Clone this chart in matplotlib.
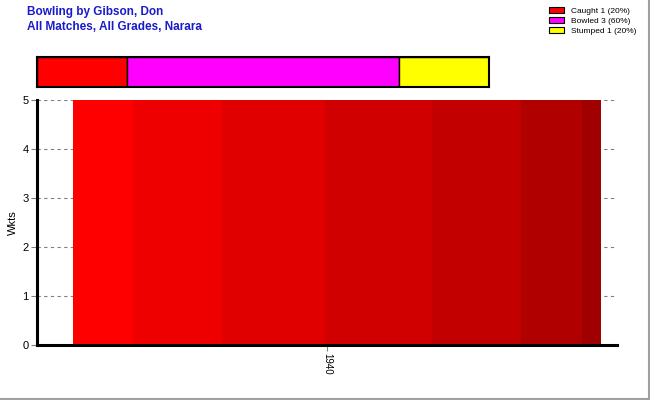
import matplotlib.pyplot as plt
from matplotlib.patches import Patch
from matplotlib.lines import Line2D

# Data
seasons = ["1940"]
wickets = [5]
dismissals = ["Caught", "Bowled", "Stumped"]
dismissal_counts = [1, 3, 1]
dismissal_colors = ["#ff0000", "#ff00ff", "#ffff00"]

# decorative shading of the bar (left to right)
shade_colors = ["#ff0000", "#ee0000", "#e00000", "#d00000", "#c20000", "#b00000", "#a00000"]
shade_edges = [0, 0.114, 0.282, 0.477, 0.68, 0.848, 0.964, 1.0]

plt.rcParams["font.family"] = ["Liberation Sans", "DejaVu Sans"]

fig = plt.figure(figsize=(6.5, 4), dpi=100)

# main chart
ax = fig.add_axes([37 / 650, 55 / 400, 580 / 650, 245 / 400])
bar_width = 0.91
bar_offset = 0.017
for i, (season, w) in enumerate(zip(seasons, wickets)):
    left = i + bar_offset - bar_width / 2
    for c, e0, e1 in zip(shade_colors, shade_edges[:-1], shade_edges[1:]):
        ax.bar(left + bar_width * e0, w, width=bar_width * (e1 - e0),
               align="edge", color=c, edgecolor="none", zorder=2)

ax.set_xlim(-0.5, len(seasons) - 0.5)
ax.set_ylim(0, 5)
ax.set_xticks(range(len(seasons)))
ax.set_xticklabels(seasons, rotation=-90, fontsize=7)
ax.set_yticks(range(0, 6))
ax.tick_params(axis="y", length=4, color="#808080", labelsize=8, pad=2)
ax.tick_params(axis="x", length=4, color="#808080", pad=2)
ax.set_ylabel("Wkts", fontsize=8, labelpad=3)
ax.yaxis.grid(True, linestyle=(0, (3, 3)), color="#808080", linewidth=0.8, zorder=1)
ax.set_axisbelow(True)
for s in ["top", "right"]:
    ax.spines[s].set_visible(False)
for s in ["left", "bottom"]:
    ax.spines[s].set_linewidth(2.2)
    ax.spines[s].set_color("black")

# dismissal summary bar
ax2 = fig.add_axes([37 / 650, 313 / 400, 452 / 650, 30 / 400])
total = sum(dismissal_counts)
start = 0
for n, c in zip(dismissal_counts, dismissal_colors):
    ax2.barh(0, n / total, left=start, height=1, color=c, edgecolor="black", linewidth=1)
    start += n / total
ax2.set_xlim(0, 1)
ax2.set_ylim(-0.5, 0.5)
ax2.set_xticks([])
ax2.set_yticks([])
for s in ax2.spines.values():
    s.set_linewidth(1.5)

# legend
handles = [Patch(facecolor=c, edgecolor="black", linewidth=0.8) for c in dismissal_colors]
labels = [f"{d} {n} ({round(100 * n / total)}%)" for d, n in zip(dismissals, dismissal_counts)]
fig.legend(handles, labels, loc="upper right", bbox_to_anchor=(0.99, 1.0), fontsize=6,
           frameon=False, handlelength=1.8, handleheight=0.7, labelspacing=0.25,
           handletextpad=0.8, borderaxespad=0.5)

# titles
fig.text(27 / 650, 1 - 12 / 400, "Bowling by Gibson, Don", color="#1a1acc",
         fontsize=8.5, fontweight="bold", va="center")
fig.text(27 / 650, 1 - 27 / 400, "All Matches, All Grades, Narara", color="#1a1acc",
         fontsize=8.5, fontweight="bold", va="center")

# figure border (right and bottom)
fig.add_artist(Line2D([0, 1], [0.002, 0.002], color="#a0a0a0", linewidth=1.5))
fig.add_artist(Line2D([0.998, 0.998], [0, 1], color="#a0a0a0", linewidth=1.5))

fig.savefig("out.png", dpi=100)
